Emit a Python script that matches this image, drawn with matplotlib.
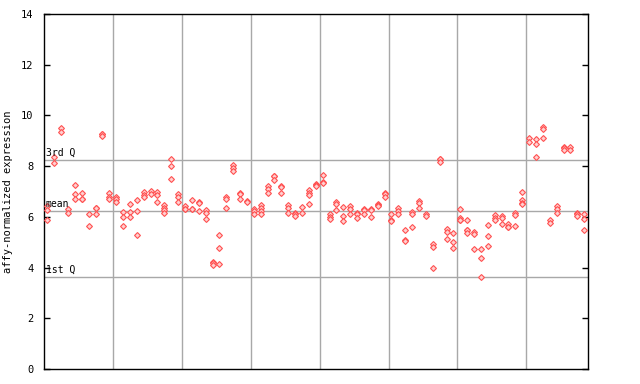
import matplotlib
matplotlib.use("Agg")
import matplotlib.pyplot as plt

# expression values per sample column
samples = [
    [6.43, 6.27, 5.88], [8.35, 8.11], [9.49, 9.33], [6.3, 6.15], [7.25, 6.9, 6.7],
    [6.93, 6.69, 6.69], [6.1, 5.65], [6.34, 6.34, 6.1], [9.27, 9.25, 9.17], [6.93, 6.8, 6.69],
    [6.8, 6.69, 6.6], [6.2, 6.0, 5.65], [6.5, 6.2, 5.98], [6.65, 6.25, 5.3], [7.0, 6.88, 6.78],
    [7.02, 6.92], [7.0, 6.85, 6.6], [6.47, 6.36, 6.26, 6.14], [8.28, 8.0, 7.48], [6.9, 6.8, 6.57],
    [6.43, 6.32, 6.3], [6.65, 6.32, 6.3], [6.57, 6.55, 6.22], [6.27, 6.17, 5.9], [4.22, 4.2, 4.09],
    [5.27, 4.76, 4.13], [6.8, 6.69, 6.34], [8.04, 7.91, 7.8], [6.93, 6.91, 6.69], [6.64, 6.6],
    [6.32, 6.22, 6.11], [6.47, 6.34, 6.23, 6.1], [7.22, 7.09, 6.95], [7.62, 7.6, 7.45], [7.2, 7.18, 6.93],
    [6.45, 6.34, 6.14], [6.15, 6.13, 6.03], [6.38, 6.14], [7.06, 6.96, 6.85, 6.5], [7.28, 7.26, 7.2],
    [7.65, 7.36, 7.34], [6.11, 6.01, 5.9], [6.6, 6.49, 6.27], [6.38, 6.03, 5.84], [6.43, 6.32, 6.1],
    [6.15, 6.13, 5.94], [6.3, 6.28, 6.1], [6.3, 6.28, 5.98], [6.51, 6.45, 6.43], [6.94, 6.92, 6.77],
    [6.11, 5.86, 5.84], [6.34, 6.23, 6.13], [5.5, 5.07, 5.05], [6.2, 6.12, 5.61], [6.64, 6.56, 6.34],
    [6.13, 6.02], [4.93, 4.82, 3.97], [8.29, 8.27, 8.18], [5.51, 5.39, 5.13], [5.38, 5.02, 4.76],
    [6.31, 5.97, 5.89, 5.87], [5.86, 5.49, 5.47, 5.35], [5.42, 5.31, 4.72], [4.72, 4.36, 3.62], [5.66, 5.23, 4.84],
    [6.07, 5.97, 5.88], [6.03, 5.94, 5.7], [5.7, 5.61, 5.59], [6.16, 6.07, 5.63], [6.99, 6.67, 6.56, 6.49],
    [9.12, 8.94], [9.07, 8.87, 8.37], [9.55, 9.45, 9.13], [5.88, 5.77], [6.43, 6.3, 6.16],
    [8.75, 8.73, 8.64], [8.74, 8.64], [6.15, 6.13, 6.05], [6.1, 5.91, 5.5],
]
group_breaks = [10, 20, 30, 40, 50, 60, 70]
q1_value = 3.63
mean_value = 6.23
q3_value = 8.24
y_ticks = [0, 2, 4, 6, 8, 10, 12, 14]

mono = "DejaVu Sans Mono"
fig = plt.figure(figsize=(6.4, 3.84), dpi=100)
ax = fig.add_axes([0.0695, 0.039, 0.8495, 0.9245])

grid_col = "#a8a8a8"
for b in group_breaks:
    ax.axvline(b, color=grid_col, lw=1.0, zorder=1)
for v in (q1_value, mean_value, q3_value):
    ax.axhline(v, color=grid_col, lw=1.0, zorder=1)

for i, vals in enumerate(samples):
    ax.plot([i + 0.42] * len(vals), vals, linestyle="none", marker="D",
            markersize=3.0, markerfacecolor="#ffd0d0", markeredgecolor="#ff5050",
            markeredgewidth=0.8, zorder=3)

ax.text(0.2, q3_value + 0.08, "3rd Q", fontsize=7, family=mono, va="bottom", ha="left", zorder=4)
ax.text(0.2, mean_value + 0.08, "mean", fontsize=7, family=mono, va="bottom", ha="left", zorder=4)
ax.text(0.2, q1_value + 0.08, "1st Q", fontsize=7, family=mono, va="bottom", ha="left", zorder=4)

ax.set_xlim(0, 79)
ax.set_ylim(0, 14)
ax.set_xticks([])
ax.set_yticks(y_ticks)
ax.set_yticklabels([str(t) for t in y_ticks], family=mono, fontsize=7.5)
ax.tick_params(axis="y", direction="in", length=4, width=1, left=True, right=True, pad=8)
ax.set_ylabel("affy-normalized expression", family=mono, fontsize=7.5, labelpad=6)
for s in ax.spines.values():
    s.set_linewidth(1.0)
    s.set_color("black")

fig.savefig("out.png", dpi=100)
